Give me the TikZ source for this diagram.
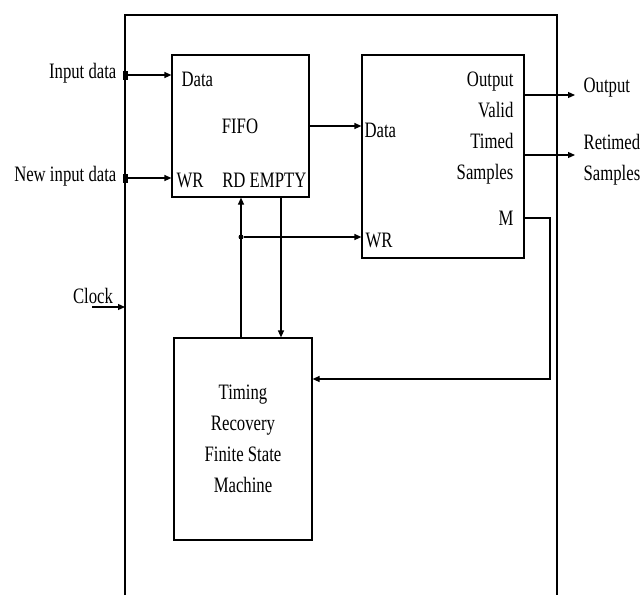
\documentclass[tikz,border=0pt]{standalone}
\usepackage{fontspec}
\setmainfont{Liberation Serif}[FakeStretch=0.76]
\usetikzlibrary{positioning,arrows.meta}

\begin{document}
\begin{tikzpicture}[x=1pt, y=-1pt, >={Triangle[length=7pt,width=6pt]}, line width=1.2pt,
    block/.style={draw, line width=1.2pt, inner sep=0pt},
    lbl/.style={font=\fontsize{22}{31}\selectfont, inner sep=0pt},
    port/.style={fill, inner sep=0pt, minimum width=5pt, minimum height=9pt},
    dot/.style={circle, fill, inner sep=0pt, minimum size=5pt}]
  \useasboundingbox (0,0) rectangle (643,595);
  % outer frame (open at the bottom)
  \coordinate (frBL) at (125,595);
  \coordinate (frTL) at (125,15);
  \coordinate (frTR) at (557,15);
  \coordinate (frBR) at (557,595);
  \draw (frBL) -- (frTL) -- (frTR) -- (frBR);

  % blocks
  \node[block, minimum width=137pt, minimum height=142pt] (fifo) at (240.5,126) {};
  \node[block, minimum width=162pt, minimum height=203pt] (sync) at (443,156.5) {};
  \node[block, lbl, align=center, minimum width=138pt, minimum height=202pt] (fsm) at (243,439)
    {Timing\\Recovery\\Finite State\\Machine};

  % fifo ports
  \node[lbl, anchor=west] (fifoData) at (181,79) {Data};
  \node[lbl] (fifoName) at (240,126) {FIFO};
  \node[lbl, anchor=west] (fifoWR) at (176,180) {WR};
  \node[lbl, anchor=east] (fifoRdEmpty) at (307,180) {RD EMPTY};

  % sampler ports
  \node[lbl, anchor=west] (syncData) at (364,130) {Data};
  \node[lbl, anchor=west] (syncWR) at (365,240) {WR};
  \node[lbl, anchor=east, align=right] (syncOut) at (514,128) {Output\\Valid\\Timed\\Samples};
  \node[lbl, anchor=east] (syncM) at (514,218) {M};

  % inputs
  \node[port] (inData) at (125,75) {};
  \node[port] (inNew) at (125,178) {};
  \node[lbl, anchor=east] (inDataLbl) at (117,73) {Input data};
  \node[lbl, anchor=east] (inNewLbl) at (117,176) {New input data};
  \node[lbl] (clkLbl) at (93,296) {Clock};
  \coordinate (clk) at (92,307);
  \draw[->] (inData) -- (inData -| fifo.west);
  \draw[->] (inNew) -- (inNew -| fifo.west);
  \draw[->] (clk) -- (clk -| frTL);

  % fifo -> sampler
  \draw[->] (fifo.east) -- (fifo.east -| sync.west);

  % read / write strobe
  \node[dot] (rdJoin) at (241,237) {};
  \draw[->] (fsm.north -| rdJoin) -- (fifo.south -| rdJoin);
  \draw[->] (rdJoin) -- (rdJoin -| sync.west);

  % empty flag
  \coordinate (empty) at (281,197);
  \draw[->] (empty) -- (empty |- fsm.north);

  % outputs
  \coordinate (outA) at (575,95);
  \coordinate (outB) at (575,155);
  \draw[->] (outA -| sync.east) -- (outA);
  \draw[->] (outB -| sync.east) -- (outB);
  \node[lbl, anchor=west] (outALbl) at (583,88) {Output};
  \node[lbl, anchor=west, align=left] (outBLbl) at (583,160) {Retimed\\Samples};

  % M feedback
  \coordinate (mTop) at (550,218);
  \coordinate (mBot) at (550,379);
  \draw[->] (mTop -| sync.east) -- (mTop) -- (mBot) -- (mBot -| fsm.east);
\end{tikzpicture}
\end{document}
